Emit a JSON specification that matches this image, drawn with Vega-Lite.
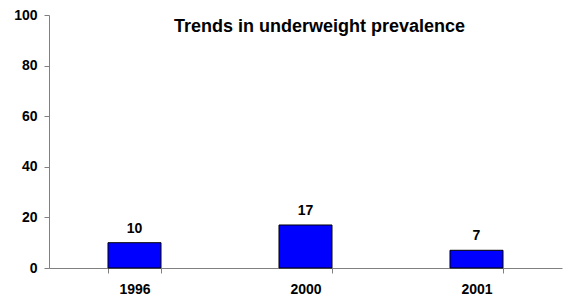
{
  "$schema": "https://vega.github.io/schema/vega-lite/v6.json",
  "width": 513,
  "height": 253,
  "autosize": {"type": "none"},
  "padding": {"left": 49, "top": 15, "right": 1, "bottom": 28},
  "background": "white",
  "config": {
    "view": {"stroke": null},
    "font": "Liberation Sans",
    "axis": {"grid": false, "labelFont": "Liberation Sans", "labelFontWeight": "bold", "labelColor": "black", "domainColor": "#808080", "tickColor": "#808080", "tickSize": 5, "title": null}
  },
  "title": {
    "text": "Trends in underweight prevalence",
    "font": "Liberation Sans",
    "fontSize": 18,
    "fontWeight": "bold",
    "color": "black",
    "anchor": "middle",
    "baseline": "alphabetic",
    "dx": 14,
    "dy": 46
  },
  "data": {"values": [
    {"year": "1996", "value": 10},
    {"year": "2000", "value": 17},
    {"year": "2001", "value": 7}
  ]},
  "encoding": {
    "x": {
      "field": "year", "type": "nominal", "sort": null,
      "scale": {"paddingInner": 0.69, "paddingOuter": 0.345},
      "axis": {"labelAngle": 0, "labelFontSize": 14, "labelPadding": 9, "tickBand": "extent", "domainColor": "#808080"}
    },
    "y": {
      "field": "value", "type": "quantitative",
      "scale": {"domain": [0, 100], "nice": false},
      "axis": {"values": [0, 20, 40, 60, 80, 100], "labelFontSize": 14, "labelPadding": 7}
    }
  },
  "layer": [
    {"mark": {"type": "bar", "color": "#0000FF", "stroke": "black", "strokeWidth": 1}},
    {"mark": {"type": "text", "font": "Liberation Sans", "fontSize": 14, "fontWeight": "bold", "baseline": "alphabetic", "dy": -10, "color": "black"},
     "encoding": {"text": {"field": "value", "type": "quantitative"}}}
  ]
}
